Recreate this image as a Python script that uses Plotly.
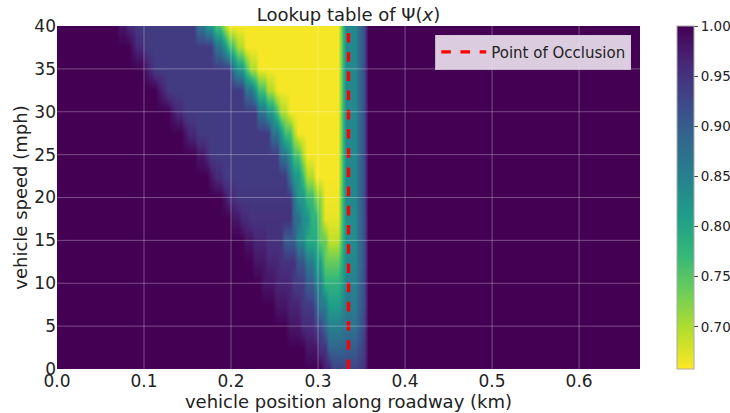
import numpy as np
import plotly.graph_objects as go

# x grid (km) and speeds (mph)
x_step = 0.005
x_max = 0.67
speeds = [0, 2.5, 5, 7.5, 10, 12.5, 15, 17.5, 20, 22.5, 25, 27.5, 30, 32.5, 35, 37.5, 40]

# Each row: list of (segment end in km, Psi value)
row_0 = [(0.305, 1.0), (0.315, 0.97), (0.3225, 0.93), (0.343, 0.93), (0.349, 0.94), (0.355, 0.95), (0.67, 1.0)]
row_2_5 = [(0.285, 1.0), (0.298, 0.98), (0.31, 0.95), (0.3225, 0.89), (0.3295, 0.89), (0.343, 0.90), (0.349, 0.92), (0.355, 0.94), (0.67, 1.0)]
row_5 = [(0.264, 1.0), (0.28, 0.98), (0.294, 0.96), (0.305, 0.93), (0.312, 0.89), (0.3225, 0.85), (0.3295, 0.86), (0.343, 0.87), (0.349, 0.90), (0.355, 0.93), (0.67, 1.0)]
row_7_5 = [(0.25, 1.0), (0.265, 0.98), (0.28, 0.965), (0.294, 0.94), (0.302, 0.90), (0.31, 0.86), (0.3225, 0.81), (0.3295, 0.83), (0.343, 0.86), (0.349, 0.89), (0.355, 0.92), (0.67, 1.0)]
row_10 = [(0.235, 1.0), (0.25, 0.98), (0.271, 0.965), (0.285, 0.94), (0.294, 0.90), (0.305, 0.85), (0.3225, 0.78), (0.3295, 0.81), (0.343, 0.85), (0.349, 0.885), (0.355, 0.92), (0.67, 1.0)]
row_12_5 = [(0.225, 1.0), (0.24, 0.98), (0.255, 0.965), (0.273, 0.95), (0.285, 0.91), (0.296, 0.86), (0.306, 0.81), (0.3225, 0.74), (0.3295, 0.79), (0.343, 0.84), (0.349, 0.88), (0.355, 0.915), (0.67, 1.0)]
row_15 = [(0.213, 1.0), (0.225, 0.98), (0.241, 0.965), (0.262, 0.95), (0.276, 0.90), (0.287, 0.84), (0.298, 0.79), (0.31, 0.74), (0.3225, 0.69), (0.3295, 0.77), (0.343, 0.835), (0.349, 0.88), (0.355, 0.915), (0.67, 1.0)]
row_17_5 = [(0.20, 1.0), (0.21, 0.98), (0.22, 0.96), (0.272, 0.95), (0.281, 0.88), (0.29, 0.83), (0.298, 0.78), (0.306, 0.73), (0.3225, 0.67), (0.3295, 0.76), (0.343, 0.835), (0.349, 0.88), (0.355, 0.915), (0.67, 1.0)]
row_20 = [(0.19, 1.0), (0.197, 0.98), (0.205, 0.96), (0.268, 0.945), (0.277, 0.87), (0.287, 0.82), (0.297, 0.77), (0.306, 0.72), (0.3225, 0.665), (0.3295, 0.76), (0.343, 0.84), (0.349, 0.88), (0.355, 0.92), (0.67, 1.0)]
row_22_5 = [(0.175, 1.0), (0.182, 0.98), (0.19, 0.96), (0.265, 0.94), (0.272, 0.87), (0.279, 0.82), (0.286, 0.76), (0.293, 0.70), (0.3225, 0.662), (0.3295, 0.75), (0.343, 0.84), (0.349, 0.88), (0.355, 0.92), (0.67, 1.0)]
row_25 = [(0.16, 1.0), (0.168, 0.98), (0.176, 0.96), (0.256, 0.94), (0.263, 0.87), (0.27, 0.82), (0.278, 0.76), (0.285, 0.70), (0.3225, 0.662), (0.3295, 0.75), (0.343, 0.84), (0.349, 0.88), (0.355, 0.92), (0.67, 1.0)]
row_27_5 = [(0.145, 1.0), (0.152, 0.98), (0.159, 0.96), (0.245, 0.94), (0.253, 0.87), (0.26, 0.82), (0.268, 0.76), (0.275, 0.70), (0.3225, 0.662), (0.3295, 0.75), (0.343, 0.84), (0.349, 0.88), (0.355, 0.92), (0.67, 1.0)]
row_30 = [(0.13, 1.0), (0.136, 0.98), (0.143, 0.96), (0.232, 0.94), (0.24, 0.87), (0.248, 0.82), (0.257, 0.76), (0.265, 0.70), (0.3225, 0.662), (0.3295, 0.75), (0.343, 0.84), (0.349, 0.88), (0.355, 0.92), (0.67, 1.0)]
row_32_5 = [(0.113, 1.0), (0.12, 0.98), (0.127, 0.96), (0.215, 0.94), (0.223, 0.87), (0.231, 0.82), (0.24, 0.76), (0.248, 0.70), (0.3225, 0.662), (0.3295, 0.75), (0.343, 0.84), (0.349, 0.88), (0.355, 0.92), (0.67, 1.0)]
row_35 = [(0.099, 1.0), (0.105, 0.98), (0.112, 0.96), (0.198, 0.94), (0.206, 0.87), (0.214, 0.82), (0.222, 0.76), (0.23, 0.70), (0.3225, 0.662), (0.3295, 0.75), (0.343, 0.84), (0.349, 0.88), (0.355, 0.92), (0.67, 1.0)]
row_37_5 = [(0.083, 1.0), (0.091, 0.98), (0.10, 0.96), (0.18, 0.94), (0.188, 0.87), (0.196, 0.82), (0.204, 0.76), (0.213, 0.70), (0.3225, 0.662), (0.3295, 0.75), (0.343, 0.84), (0.349, 0.88), (0.355, 0.92), (0.67, 1.0)]
row_40 = [(0.072, 1.0), (0.082, 0.98), (0.092, 0.96), (0.162, 0.94), (0.171, 0.87), (0.18, 0.82), (0.189, 0.76), (0.197, 0.70), (0.3225, 0.662), (0.3295, 0.75), (0.343, 0.84), (0.349, 0.88), (0.355, 0.92), (0.67, 1.0)]

rows = [row_0, row_2_5, row_5, row_7_5, row_10, row_12_5, row_15, row_17_5, row_20,
        row_22_5, row_25, row_27_5, row_30, row_32_5, row_35, row_37_5, row_40]

occlusion_x = 0.335
x_ticks = [0.0, 0.1, 0.2, 0.3, 0.4, 0.5, 0.6]
y_ticks = [0, 5, 10, 15, 20, 25, 30, 35, 40]
cbar_ticks = [0.70, 0.75, 0.80, 0.85, 0.90, 0.95, 1.00]
z_min, z_max = 0.658, 1.0
y_min, y_max = 0, 40

x_centers = np.arange(x_step / 2, x_max, x_step)

def row_values(segs):
    out = []
    for xc in x_centers:
        for end, v in segs:
            if xc < end:
                out.append(v)
                break
        else:
            out.append(segs[-1][1])
    return out

z = [row_values(r) for r in rows]

fig = go.Figure()
fig.add_trace(go.Heatmap(
    x=x_centers, y=speeds, z=z,
    colorscale="Viridis", reversescale=True, zmin=z_min, zmax=z_max,
    zsmooth="best", showlegend=False, hoverinfo="skip",
    colorbar=dict(
        thickness=17, len=1.0, lenmode="fraction", y=0.5, yanchor="middle",
        x=1.063, xanchor="left", xpad=0, ypad=0,
        tickvals=cbar_ticks, tickformat=".2f", ticks="outside", ticklen=4,
        tickfont=dict(size=13.5, color="#222"), outlinecolor="#aaa", outlinewidth=1,
    ),
))

# grid lines above the image (matplotlib draws the grid on top)
grid_col = "rgba(255,255,255,0.3)"
for xv in x_ticks[1:]:
    fig.add_shape(type="line", xref="x", yref="y", x0=xv, x1=xv, y0=y_min, y1=y_max,
                  line=dict(color=grid_col, width=1), layer="above")
for yv in y_ticks[1:-1]:
    fig.add_shape(type="line", xref="x", yref="y", x0=0, x1=x_max, y0=yv, y1=yv,
                  line=dict(color=grid_col, width=1), layer="above")

fig.add_trace(go.Scatter(
    x=[occlusion_x, occlusion_x], y=[y_min, y_max], mode="lines",
    line=dict(color="red", width=3.2, dash="dash"), name="Point of Occlusion",
    showlegend=True,
))

fig.update_layout(
    width=730, height=413,
    margin=dict(l=57, r=90, t=26, b=44, autoexpand=False),
    paper_bgcolor="white", plot_bgcolor="white",
    showlegend=True,
    font=dict(family="DejaVu Sans", color="#222"),
    title=dict(text="Lookup table of Ψ(<i>x</i>)", x=(57 + 640) / 2 / 730, xanchor="center",
               y=1 - 15 / 413, yanchor="middle", font=dict(size=18, color="#222")),
    xaxis=dict(range=[0, x_max], tickvals=x_ticks, tickformat=".1f", showgrid=False,
               zeroline=False, tickfont=dict(size=17), ticks="", showline=False,
               title=dict(text="vehicle position along roadway (km)", font=dict(size=18), standoff=0)),
    yaxis=dict(range=[y_min, y_max], tickvals=y_ticks, showgrid=False,
               zeroline=False, tickfont=dict(size=17), ticks="",
               title=dict(text="vehicle speed (mph)", font=dict(size=18), standoff=2)),
    legend=dict(x=0.985, xanchor="right", y=0.975, yanchor="top", itemwidth=45,
                bgcolor="rgba(232,222,236,0.92)", bordercolor="rgba(210,200,215,0.9)", borderwidth=1,
                font=dict(size=15, color="#222")),
)

fig.write_html("out.html")
